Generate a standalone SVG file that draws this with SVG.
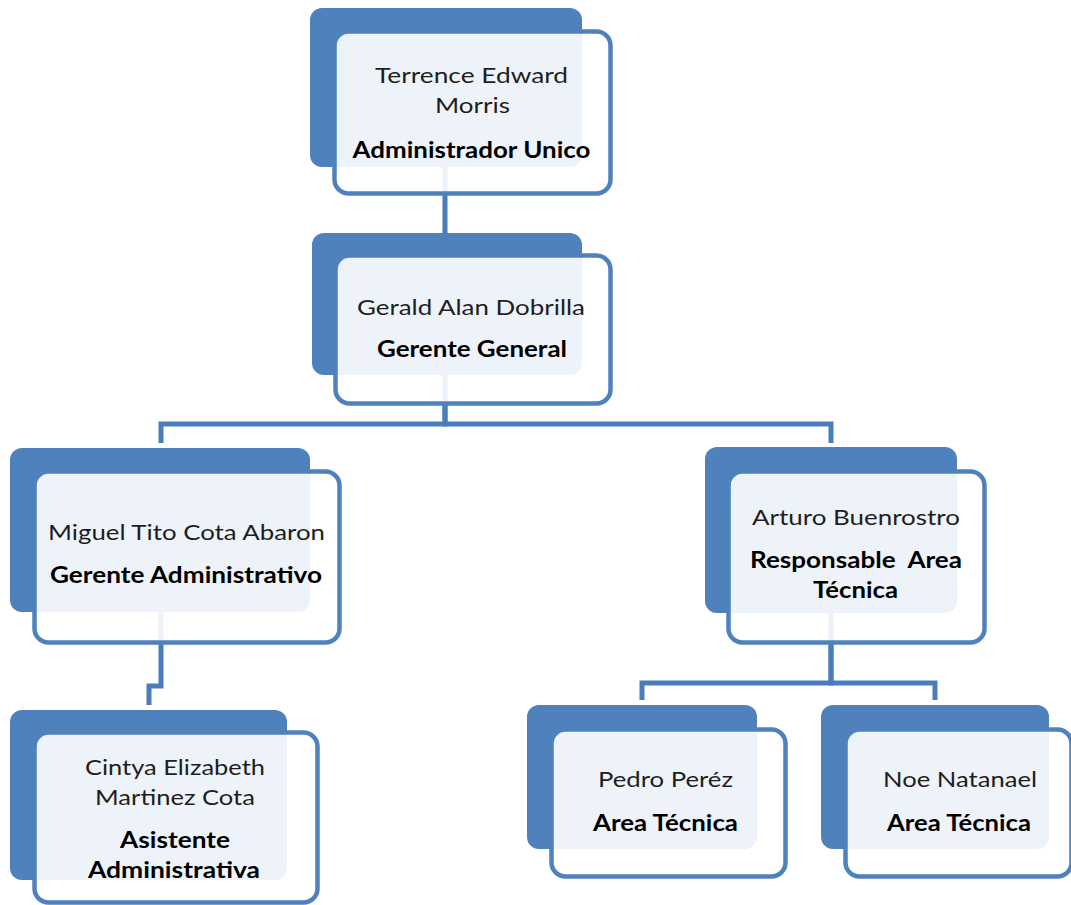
<svg xmlns="http://www.w3.org/2000/svg" width="1071" height="905" viewBox="0 0 1071 905">
<style>
.bk{fill:#4F81BD}
.fr{fill:#FFFFFF;fill-opacity:0.9;stroke:#4F81BD;stroke-width:4.5}
.cn{fill:none;stroke:#4A7EBB;stroke-width:5;stroke-linejoin:miter}
.nm{font-family:Lato,"Open Sans","Liberation Sans",sans-serif;font-size:22px;fill:#1E1E1E;text-anchor:middle}
.tt{font-family:Lato,"Open Sans","Liberation Sans",sans-serif;font-size:22px;font-weight:bold;fill:#000000;text-anchor:middle}
</style>
<rect width="1071" height="905" fill="#FFFFFF"/>
<g id="connectors">
<path class="cn" d="M445,100 V233"/>
<path class="cn" d="M445,330 V424 H161 V443"/>
<path class="cn" d="M445,330 V424 H831 V443"/>
<path class="cn" d="M161,560 V686 H149 V705"/>
<path class="cn" d="M831,560 V683 H642 V700"/>
<path class="cn" d="M831,560 V683 H935 V700"/>
</g>
<g id="node-terrence">
<rect class="bk" x="310" y="8" width="272" height="159" rx="12"/>
<rect class="fr" x="334.5" y="31.5" width="276" height="162" rx="14"/>
<text class="nm" x="471.5" y="83" textLength="193" lengthAdjust="spacingAndGlyphs">Terrence Edward</text>
<text class="nm" x="472.5" y="113" textLength="75" lengthAdjust="spacingAndGlyphs">Morris</text>
<text class="tt" x="471.5" y="158" textLength="238" lengthAdjust="spacingAndGlyphs">Administrador Unico</text>
</g>
<g id="node-gerald">
<rect class="bk" x="312" y="233" width="270" height="142" rx="12"/>
<rect class="fr" x="335.5" y="255.5" width="275" height="148" rx="14"/>
<text class="nm" x="471" y="315" textLength="228" lengthAdjust="spacingAndGlyphs">Gerald Alan Dobrilla</text>
<text class="tt" x="472" y="357" textLength="190" lengthAdjust="spacingAndGlyphs">Gerente General</text>
</g>
<g id="node-miguel">
<rect class="bk" x="10" y="448" width="300" height="164" rx="12"/>
<rect class="fr" x="34.5" y="471.5" width="305" height="171" rx="14"/>
<text class="nm" x="186.5" y="540" textLength="277" lengthAdjust="spacingAndGlyphs">Miguel Tito Cota Abaron</text>
<text class="tt" x="186" y="583" textLength="272" lengthAdjust="spacingAndGlyphs">Gerente Administrativo</text>
</g>
<g id="node-cintya">
<rect class="bk" x="10" y="710" width="277" height="170" rx="12"/>
<rect class="fr" x="34.5" y="732.5" width="283" height="170" rx="14"/>
<text class="nm" x="175" y="775" textLength="180" lengthAdjust="spacingAndGlyphs">Cintya Elizabeth</text>
<text class="nm" x="175" y="805" textLength="160" lengthAdjust="spacingAndGlyphs">Martinez Cota</text>
<text class="tt" x="175" y="848" textLength="110" lengthAdjust="spacingAndGlyphs">Asistente</text>
<text class="tt" x="174" y="878" textLength="172" lengthAdjust="spacingAndGlyphs">Administrativa</text>
</g>
<g id="node-arturo">
<rect class="bk" x="705" y="447" width="252" height="166" rx="12"/>
<rect class="fr" x="728.5" y="471.5" width="256" height="171" rx="14"/>
<text class="nm" x="856" y="525" textLength="208" lengthAdjust="spacingAndGlyphs">Arturo Buenrostro</text>
<text class="tt" x="856" y="568" textLength="212" lengthAdjust="spacingAndGlyphs" style="white-space:pre">Responsable  Area</text>
<text class="tt" x="855.5" y="598" textLength="85" lengthAdjust="spacingAndGlyphs">Técnica</text>
</g>
<g id="node-pedro">
<rect class="bk" x="527" y="705" width="230" height="144" rx="12"/>
<rect class="fr" x="551.5" y="729.5" width="234" height="147" rx="14"/>
<text class="nm" x="665.5" y="787" textLength="135" lengthAdjust="spacingAndGlyphs">Pedro Peréz</text>
<text class="tt" x="665.5" y="831" textLength="145" lengthAdjust="spacingAndGlyphs">Area Técnica</text>
</g>
<g id="node-noe">
<rect class="bk" x="821" y="705" width="228" height="144" rx="12"/>
<rect class="fr" x="845.5" y="729.5" width="226" height="147" rx="14"/>
<text class="nm" x="960" y="787" textLength="154" lengthAdjust="spacingAndGlyphs">Noe Natanael</text>
<text class="tt" x="959" y="831" textLength="144" lengthAdjust="spacingAndGlyphs">Area Técnica</text>
</g>
</svg>
